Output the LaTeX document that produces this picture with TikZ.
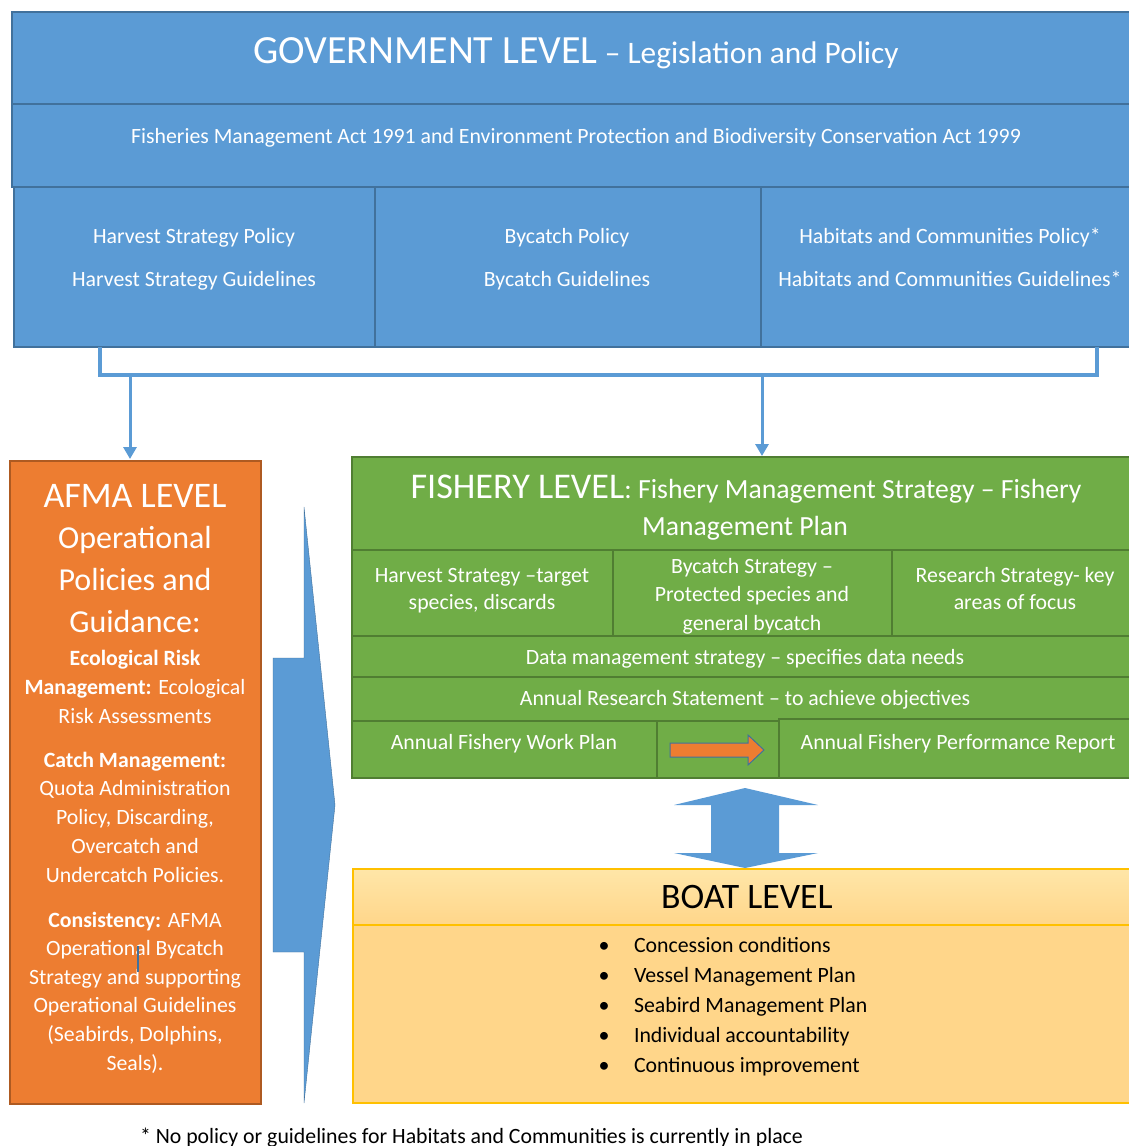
\documentclass[tikz,border=0pt]{standalone}
\usepackage{fontspec}
\setmainfont{Carlito}
\usetikzlibrary{arrows.meta}
\definecolor{gblue}{HTML}{5B9BD5}
\definecolor{gblueD}{HTML}{41719C}
\definecolor{fgreen}{HTML}{70AD47}
\definecolor{fgreenD}{HTML}{507E32}
\definecolor{aorange}{HTML}{ED7D31}
\definecolor{aorangeD}{HTML}{AE5A21}
\definecolor{byel}{HTML}{FFD68A}
\definecolor{byelL}{HTML}{FFE6A8}
\definecolor{bgold}{HTML}{FFC000}
\newcommand{\fs}[2]{\fontsize{#1}{#2}\selectfont}
\newcommand{\sm}{\fs{21.8}{26}}
\begin{document}
\begin{tikzpicture}[x=1pt,y=-1pt,
  cell/.style={anchor=north west,inner sep=0pt,outer sep=0pt,line width=1.4pt},
  govcell/.style={cell,draw=gblueD,fill=gblue},
  fishcell/.style={cell,draw=fgreenD,fill=fgreen},
  txt/.style={inner sep=0pt,outer sep=0pt,anchor=base,text=white},
  btxt/.style={inner sep=0pt,outer sep=0pt,anchor=base west,text=black},
  conn/.style={draw=gblue,line width=3.2pt},
  arr/.style={draw=gblue,line width=3pt,-{Triangle[length=12pt,width=13pt]}}
]
\clip (0,0) rectangle (1129,1146);
\fill[white] (0,0) rectangle (1129,1146);

% ---------- Government level ----------
\node[govcell,minimum width=1130pt,minimum height=92pt] (g0) at (12,12) {};
\node[govcell,minimum width=1130pt,minimum height=83pt] (g1) at (12,104) {};
\node[govcell,minimum width=361pt,minimum height=160pt] (gA) at (14,187) {};
\node[govcell,minimum width=386pt,minimum height=160pt] (gB) at (375,187) {};
\node[govcell,minimum width=380pt,minimum height=160pt] (gC) at (761,187) {};

\node[txt] (gt) at (576,63) {\fs{40}{44}GOVERNMENT LEVEL\fs{31.3}{34} – Legislation and Policy};
\node[txt] (gact) at (576,143) {\sm Fisheries Management Act 1991 and Environment Protection and Biodiversity Conservation Act 1999};
\node[txt] (ga1) at (194,243) {\sm Harvest Strategy Policy};
\node[txt] (ga2) at (194,286) {\sm Harvest Strategy Guidelines};
\node[txt] (gb1) at (567,243) {\sm Bycatch Policy};
\node[txt] (gb2) at (567,286) {\sm Bycatch Guidelines};
\node[txt] (gc1) at (950,243) {\sm Habitats and Communities Policy*};
\node[txt] (gc2) at (950,286) {\sm Habitats and Communities Guidelines*};

% ---------- bracket and arrows ----------
\coordinate (bl) at (100,347);
\coordinate (bm) at (100,375);
\coordinate (bn) at (1097,375);
\coordinate (br) at (1097,347);
\draw[conn] (bl) -- (bm) -- (bn) -- (br);
\coordinate (a1) at (130,375);
\coordinate (a1e) at (130,459);
\coordinate (a2) at (762,375);
\coordinate (a2e) at (762,456);

% ---------- AFMA level ----------
\node[cell,draw=aorangeD,fill=aorange,minimum width=251pt,minimum height=643pt] (afma) at (10,461) {};
\draw[arr] (a1) -- (a1e);
\node[txt] (at) at (135,507) {\parbox[t]{245pt}{\centering\fs{36}{41}AFMA LEVEL\\\fs{32}{41.7}Operational\\Policies and\\Guidance:}};
\node[txt] (ap1) at (135,665) {\parbox[t]{245pt}{\centering\fs{21.8}{29}\textbf{Ecological Risk}\\\textbf{Management:} Ecological\\Risk Assessments}};
\node[txt] (ap2) at (135,767) {\parbox[t]{245pt}{\centering\fs{21.8}{28.75}\textbf{Catch Management:}\\Quota Administration\\Policy, Discarding,\\Overcatch and\\Undercatch Policies.}};
\node[txt] (ap3) at (135,927) {\parbox[t]{245pt}{\centering\fs{21.8}{28.6}\textbf{Consistency:} AFMA\\Operational Bycatch\\Strategy and supporting\\Operational Guidelines\\(Seabirds, Dolphins,\\Seals).}};
\draw[gblueD,line width=1.2pt] (138,946) -- (138,972);

% ---------- big chevron arrow ----------
\path[fill=gblue,draw=gblueD,line width=0.4pt] (273,658) -- (304,658) -- (304,507) -- (335,805) -- (304,1103) -- (304,952) -- (273,952) -- cycle;

% ---------- Fishery level ----------
\node[fishcell,minimum width=790pt,minimum height=93pt] (f0) at (352,457) {};
\node[fishcell,minimum width=261pt,minimum height=86pt] (fA) at (352,550) {};
\node[fishcell,minimum width=279pt,minimum height=86pt] (fB) at (613,550) {};
\node[fishcell,minimum width=250pt,minimum height=86pt] (fC) at (892,550) {};
\node[fishcell,minimum width=790pt,minimum height=41pt] (fD) at (352,636) {};
\node[fishcell,minimum width=790pt,minimum height=44pt] (fE) at (352,677) {};
\node[fishcell,minimum width=305pt,minimum height=57pt] (fF) at (352,721) {};
\node[fishcell,minimum width=122pt,minimum height=57pt] (fG) at (657,721) {};
\node[fishcell,minimum width=363pt,minimum height=59pt] (fH) at (779,719) {};
\draw[arr] (a2) -- (a2e);

\node[txt] (ft1) at (746,498) {\fs{36.2}{40}FISHERY LEVEL\fs{27.7}{32}: Fishery Management Strategy – Fishery};
\node[txt] (ft2) at (745,535) {\fs{27.7}{32}Management Plan};
\node[txt] (fa) at (482,582) {\parbox[t]{258pt}{\centering\fs{21.8}{27}Harvest Strategy –target\\species, discards}};
\node[txt] (fb) at (752,573) {\parbox[t]{275pt}{\centering\fs{21.8}{28.5}Bycatch Strategy –\\Protected species and\\general bycatch}};
\node[txt] (fc) at (1015,582) {\parbox[t]{245pt}{\centering\fs{21.8}{27}Research Strategy- key\\areas of focus}};
\node[txt] (fd) at (745,664) {\sm Data management strategy – specifies data needs};
\node[txt] (fe) at (745,705) {\sm Annual Research Statement – to achieve objectives};
\node[txt] (ff) at (504,749) {\sm Annual Fishery Work Plan};
\node[txt] (fh) at (958,749) {\sm Annual Fishery Performance Report};
\path[fill=aorange,draw=gblueD,line width=1pt] (670,743) -- (748,743) -- (748,735) -- (764,750) -- (748,765) -- (748,757) -- (670,757) -- cycle;

% ---------- double arrow ----------
\path[fill=gblue] (745,788) -- (818,805) -- (779,805) -- (779,853) -- (818,853) -- (745,868) -- (674,853) -- (711,853) -- (711,805) -- (674,805) -- cycle;

% ---------- Boat level ----------
\node[cell,draw=bgold,fill=byel,minimum width=790pt,minimum height=234pt] (boat) at (353,869) {};
\node[cell,draw=bgold,top color=byelL,bottom color=byel,minimum width=790pt,minimum height=56pt] (bh) at (353,869) {};
\node[btxt,anchor=base] (bt) at (747,908) {\fs{35.8}{40}BOAT LEVEL};
\foreach \y/\t [count=\i] in {952/Concession conditions,982/Vessel Management Plan,1012/Seabird Management Plan,1042/Individual accountability,1072/Continuous improvement}{
  \node[btxt,anchor=base] (bb\i) at (604,\y) {\fs{22}{26}\textbullet};
  \node[btxt] (bi\i) at (634,\y) {\fs{21.8}{26}\t};
}

% ---------- footnote ----------
\node[btxt] (fn) at (140,1143) {\sm * No policy or guidelines for Habitats and Communities is currently in place};
\end{tikzpicture}
\end{document}
